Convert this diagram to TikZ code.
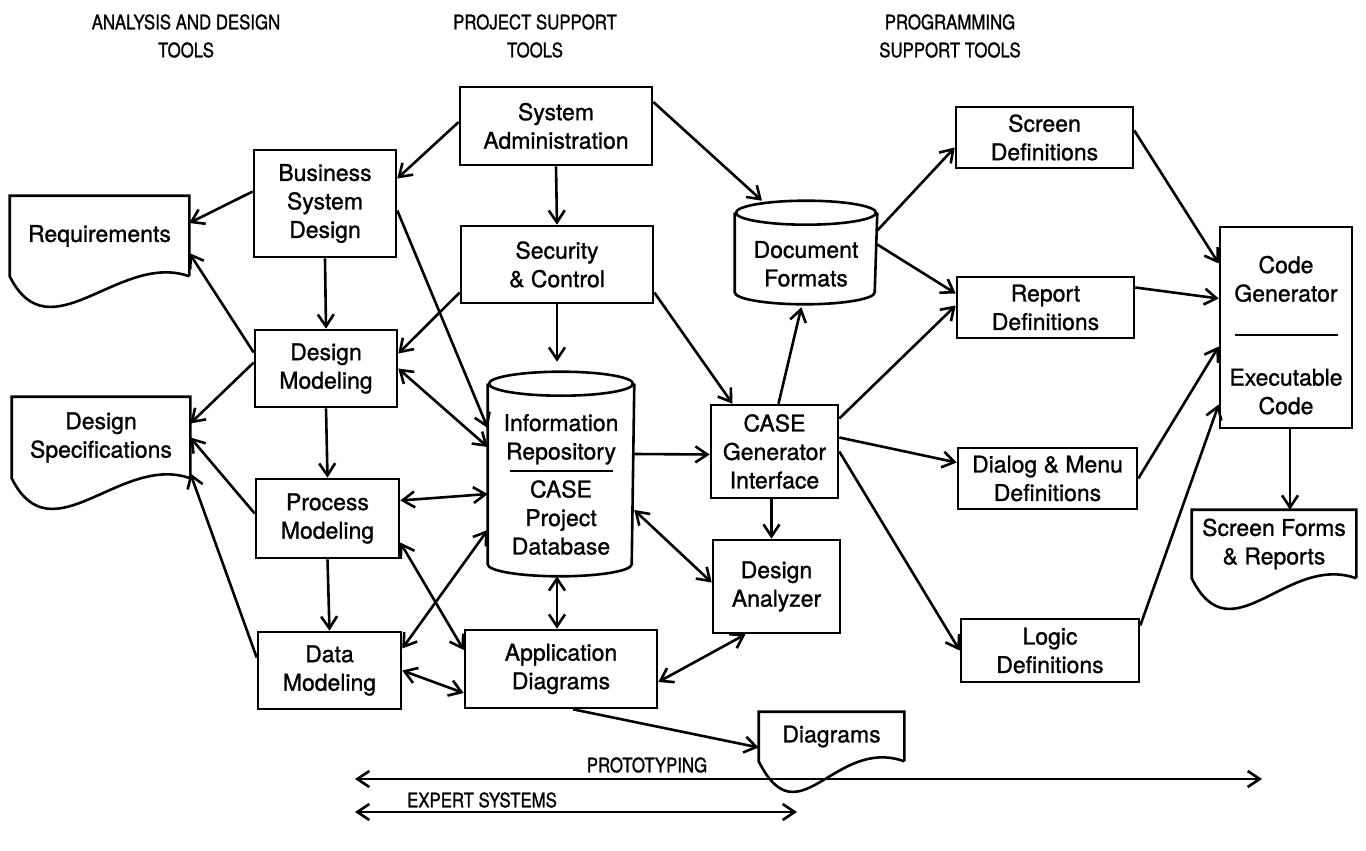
\documentclass[tikz,border=0pt]{standalone}
\usepackage{fontspec}
\setmainfont{TeX Gyre Heros}[FakeBold=1.1]
\newfontfamily\capsfont{TeX Gyre Heros}[FakeStretch=0.84,FakeBold=1.1]
\usetikzlibrary{arrows.meta,positioning}

\begin{document}
\begin{tikzpicture}[x=1pt, y=-1pt, line width=2.6pt,
    >={Straight Barb[length=12pt,width=16pt]},
    box/.style={rectangle,draw,align=center,inner sep=0pt,font=\fontsize{23}{28.5}\selectfont},
    sheet/.style={rectangle,align=center,inner sep=0pt,font=\fontsize{23}{28.5}\selectfont},
    dims/.style 2 args={minimum width=#1pt,minimum height=#2pt},
    heading/.style={align=center,font=\capsfont\fontsize{20}{28}\selectfont}]
  \useasboundingbox (0,0) rectangle (1366,851);

  % column headings
  \node[heading] (hanal) at (186,36) {ANALYSIS AND DESIGN\\TOOLS};
  \node[heading] (hproj) at (535,36) {PROJECT SUPPORT\\TOOLS};
  \node[heading] (hprog) at (950,36) {PROGRAMMING\\SUPPORT TOOLS};

  % analysis and design
  \node[box,dims={142}{107}] (bsd) at (325,203.5) {Business\\System\\Design};
  \node[box,dims={142}{77}] (dmod) at (326,368.5) {Design\\Modeling};
  \node[box,dims={143}{79}] (pmod) at (327.5,518.5) {Process\\Modeling};
  \node[box,dims={143}{77}] (datam) at (329.5,670.5) {Data\\Modeling};
  \node[sheet,dims={177}{78}] (req) at (99.5,236) {Requirements};
  \node[sheet,dims={176}{79}] (dspec) at (101,437.5) {Design\\Specifications};

  % project support
  \node[box,dims={192}{78}] (sysadm) at (556,126) {System\\Administration};
  \node[box,dims={192}{77}] (secctl) at (557,264.5) {Security\\\& Control};
  \node[sheet,dims={144}{202}] (repo) at (561,474)
    {\rule{0pt}{37.8pt}Information\\Repository\\[-15.5pt]\rule{103pt}{2pt}\\[-3.5pt]CASE\\Project\\Database};
  \node[sheet,dims={140}{101}] (docfmt) at (806,252.5) {\rule{0pt}{39.5pt}Document\\Formats};
  \node[box,dims={127}{93}] (cgi) at (774.5,451.5) {CASE\\Generator\\Interface};
  \node[box,dims={127}{93}] (danal) at (776.5,586.5) {Design\\Analyzer};
  \node[box,dims={192}{78}] (appd) at (561,669) {Application\\Diagrams};
  \node[sheet,dims={143}{47}] (diag) at (831.5,736.5) {Diagrams};

  % programming support
  \node[box,dims={177}{61}] (scrdef) at (1044.5,137.5) {Screen\\Definitions};
  \node[box,dims={177}{61}] (repdef) at (1045.5,307.5) {Report\\Definitions};
  \node[box,dims={179}{61}] (dlgdef) at (1047.5,478.5) {Dialog \& Menu\\Definitions};
  \node[box,dims={178}{63}] (logdef) at (1050,650.5) {Logic\\Definitions};
  \node[box,dims={132}{201}] (codegen) at (1286,327.5)
    {\rule{0pt}{32.5pt}Code\\Generator\\[5.5pt]\rule{103pt}{2pt}\\[21.5pt]Executable\\Code};
  \node[sheet,dims={162}{66}] (forms) at (1274,544) {Screen Forms\\\& Reports};

  % document outlines
  \foreach \n in {req,dspec,diag,forms}
    \draw (\n.south east) -- (\n.north east) -- (\n.north west) -- (\n.south west)
      .. controls +(40,80) and +(-70,-25) .. (\n.south east);

  % cylinders
  \foreach \n/\r in {repo/72pt,docfmt/70pt} {
    \draw ([yshift=-12pt]\n.north) ellipse [x radius=\r, y radius=12pt];
    \draw ([yshift=-12pt]\n.north west) -- ([yshift=12pt]\n.south west)
      arc [start angle=180, end angle=360, x radius=\r, y radius=12pt]
      -- ([yshift=-12pt]\n.north east);
  }

  % connectors
  \draw[->] ([yshift=4pt]sysadm.west) -- ([yshift=25pt]bsd.east);
  \draw[->] (sysadm.south) -- (secctl.north);
  \draw[->] ([yshift=24pt]sysadm.east) -- ([xshift=-44pt]docfmt.north);
  \draw[->] ([yshift=12pt]bsd.west) -- ([yshift=13pt]req.east);
  \draw[->] (bsd.south) -- (dmod.north);
  \draw[->] ([yshift=-7pt]bsd.east) -- ([yshift=46pt]repo.west);
  \draw[->] ([yshift=-28pt]secctl.west) -- ([yshift=15pt]dmod.east);
  \draw[->,shorten >=10pt] (secctl.south) -- ([xshift=-4pt]repo.north);
  \draw[->] ([yshift=-28pt]secctl.east) -- ([xshift=-42pt]cgi.north);
  \draw[<->] (dmod.east) -- ([yshift=27pt]repo.west);
  \draw[->] ([yshift=16pt]dmod.west) -- ([yshift=-17pt]req.east);
  \draw[->] ([yshift=6pt]dmod.west) -- ([yshift=14pt]dspec.east);
  \draw[->] (dmod.south) -- (pmod.north);
  \draw[->] ([yshift=5pt]pmod.west) -- (dspec.east);
  \draw[->] ([yshift=13pt]datam.west) -- ([yshift=5pt]dspec.south east);
  \draw[<->] ([yshift=18pt]pmod.east) -- ([yshift=-20pt]repo.west);
  \draw[->] (pmod.south) -- (datam.north);
  \draw[<->] ([yshift=-24pt]pmod.east) -- ([yshift=19pt]appd.west);
  \draw[<->] ([yshift=-56pt]repo.west) -- ([yshift=22pt]datam.east);
  \draw[<->] (datam.east) -- ([yshift=-24pt]appd.west);
  \draw[<->] ([xshift=-4pt]repo.south) -- ([xshift=-4pt]appd.north);
  \draw[->] ([yshift=20pt]repo.east) -- ([yshift=-3pt]cgi.west);
  \draw[<->] ([yshift=-36pt]repo.east) -- ([yshift=4pt]danal.west);
  \draw[->,shorten >=3pt] ([xshift=4pt]cgi.north) -- ([xshift=-4pt]docfmt.south);
  \draw[->] ([xshift=-3pt]cgi.south) -- ([xshift=-5pt]danal.north);
  \draw[<->] ([xshift=-31pt]danal.south) -- ([yshift=-13pt]appd.east);
  \draw[->] ([xshift=12pt]appd.south) -- ([yshift=-11pt]diag.west);
  \draw[->] ([yshift=22pt]docfmt.east) -- ([yshift=-10pt]scrdef.west);
  \draw[->] ([yshift=8pt]docfmt.east) -- ([yshift=14pt]repdef.west);
  \draw[->] ([yshift=33pt]cgi.east) -- ([yshift=2pt]repdef.west);
  \draw[->] ([yshift=14pt]cgi.east) -- ([yshift=16pt]dlgdef.west);
  \draw[->] (cgi.east) -- (logdef.west);
  \draw[->] ([yshift=7pt]scrdef.east) -- ([yshift=64pt]codegen.west);
  \draw[->] ([yshift=20pt]repdef.east) -- ([yshift=29pt]codegen.west);
  \draw[->] (dlgdef.east) -- ([yshift=-19pt]codegen.west);
  \draw[->] ([yshift=25pt]logdef.east) -- ([yshift=-77pt]codegen.west);
  \draw[->] ([xshift=4pt]codegen.south) -- ([xshift=16pt]forms.north);

  % spans along the bottom
  \coordinate (protoL) at (355,779);
  \coordinate (protoR) at (1262,779);
  \coordinate (expL) at (355,812);
  \coordinate (expR) at (797,812);
  \node[heading] (proto) at (647,765) {PROTOTYPING};
  \node[heading] (expert) at (482,800) {EXPERT SYSTEMS};
  \draw[<->] (protoL) -- (protoR);
  \draw[<->] (expL) -- (expR);
\end{tikzpicture}
\end{document}
